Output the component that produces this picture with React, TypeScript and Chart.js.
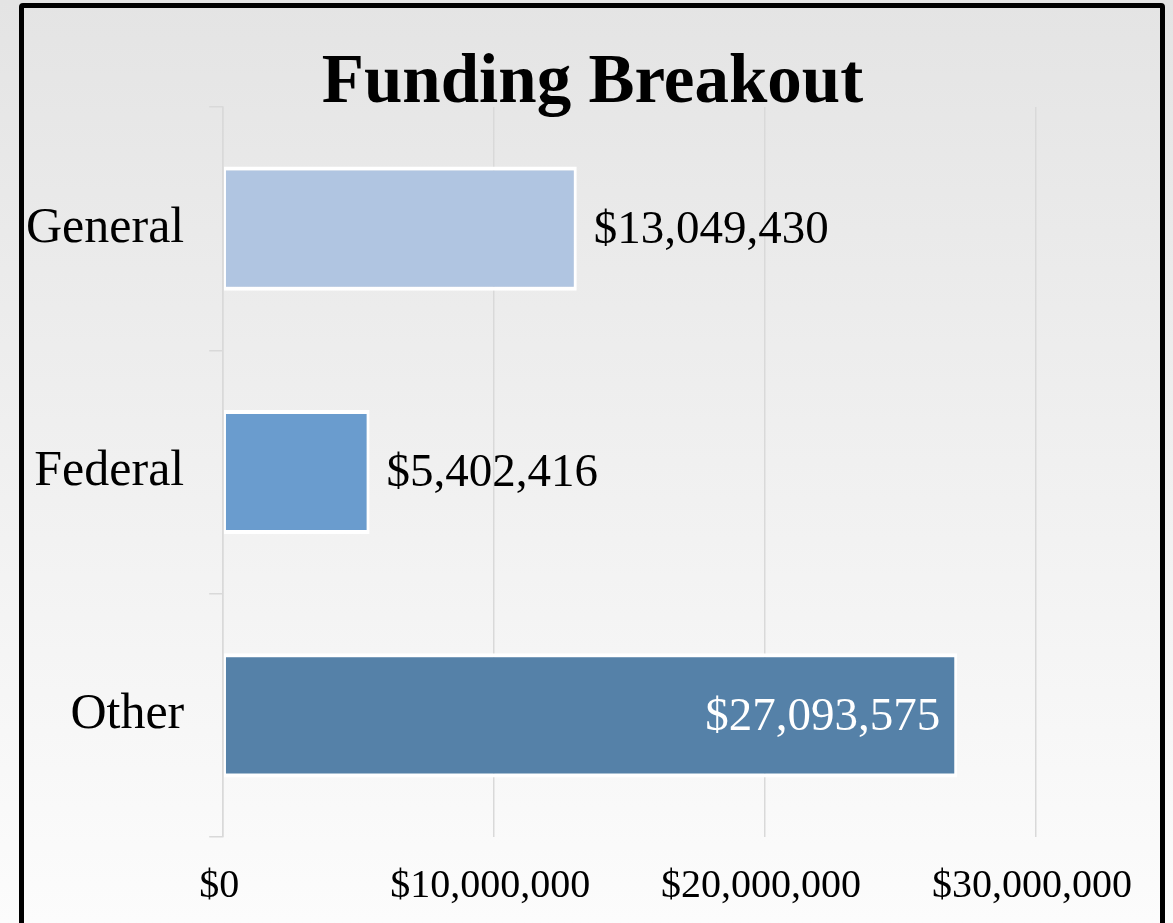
import { useEffect, useRef } from "react";
import { Chart, registerables } from "chart.js";

Chart.register(...registerables);

const categories = ["General", "Federal", "Other"];
const amounts = [13049430, 5402416, 27093575];
const barColors = ["#b0c5e1", "#6a9cce", "#5581a8"];
const xMin = 0;
const xMax = 30000000;
const xStep = 10000000;
const titleText = "Funding Breakout";

const FONT = "'Liberation Serif', 'Times New Roman', serif";
const money = (v: number) => "$" + Math.round(v).toLocaleString("en-US");

const titlePlugin = {
  id: "customTitle",
  afterDraw(chart: any) {
    const ctx = chart.ctx;
    ctx.save();
    ctx.font = `bold 69px ${FONT}`;
    ctx.fillStyle = "#000000";
    ctx.textAlign = "center";
    ctx.textBaseline = "alphabetic";
    ctx.fillText(titleText, 592.5, 102);
    ctx.restore();
  },
};

const valueLabelPlugin = {
  id: "valueLabels",
  afterDatasetsDraw(chart: any) {
    const ctx = chart.ctx;
    const meta = chart.getDatasetMeta(0);
    const area = chart.chartArea;
    ctx.save();
    ctx.font = `47px ${FONT}`;
    ctx.textBaseline = "middle";
    meta.data.forEach((bar: any, i: number) => {
      const text = money(amounts[i]);
      const w = ctx.measureText(text).width;
      const gap = 17;
      if (bar.x + gap + w > area.right) {
        ctx.textAlign = "right";
        ctx.fillStyle = "#ffffff";
        ctx.fillText(text, bar.x - gap, bar.y + 2);
      } else {
        ctx.textAlign = "left";
        ctx.fillStyle = "#000000";
        ctx.fillText(text, bar.x + gap, bar.y + 2);
      }
    });
    ctx.restore();
  },
};

export default function App() {
  const canvasRef = useRef<HTMLCanvasElement | null>(null);

  useEffect(() => {
    if (!canvasRef.current) return;
    const chart = new Chart(canvasRef.current, {
      type: "bar",
      data: {
        labels: categories,
        datasets: [
          {
            data: amounts,
            backgroundColor: barColors,
            borderColor: "#ffffff",
            borderWidth: { top: 4, bottom: 4, right: 3, left: 2 },
            borderSkipped: false,
            categoryPercentage: 1,
            barPercentage: 0.51,
          },
        ],
      },
      options: {
        indexAxis: "y",
        animation: false,
        responsive: false,
        maintainAspectRatio: false,
        events: [],
        layout: { padding: { left: 1, right: 137, top: 107, bottom: -12 } },
        plugins: {
          legend: { display: false },
          title: { display: false },
          tooltip: { enabled: false },
        },
        scales: {
          x: {
            type: "linear",
            min: xMin,
            max: xMax,
            border: { display: false },
            grid: {
              color: "#d9d9d9",
              lineWidth: 1.5,
              drawTicks: false,
            },
            ticks: {
              stepSize: xStep,
              padding: 25,
              labelOffset: -4,
              color: "#000000",
              font: { family: FONT, size: 40 },
              callback: (v: any) => money(Number(v)),
              maxRotation: 0,
            },
          },
          y: {
            type: "category",
            afterFit(scale: any) {
              scale.paddingTop = 0;
              scale.paddingBottom = 0;
            },
            border: { display: true, color: "#d9d9d9", width: 1.5 },
            grid: {
              offset: true,
              drawOnChartArea: false,
              drawTicks: true,
              tickLength: 14,
              color: "#d9d9d9",
              lineWidth: 1.5,
            },
            ticks: {
              padding: 25,
              color: "#000000",
              font: { family: FONT, size: 50 },
            },
          },
        },
      },
      plugins: [titlePlugin, valueLabelPlugin],
    } as any);
    return () => chart.destroy();
  }, []);

  return (
    <div
      style={{
        position: "fixed",
        left: 0,
        top: 0,
        width: 1173,
        height: 923,
        overflow: "hidden",
        background: "linear-gradient(#e4e4e4, #fcfcfc)",
      }}
    >
      <div
        style={{
          position: "absolute",
          left: 19,
          top: 3,
          width: 1136,
          height: 980,
          border: "5px solid #000000",
          borderRadius: 4,
          boxSizing: "content-box",
        }}
      />
      <canvas
        ref={canvasRef}
        width={1173}
        height={923}
        style={{ position: "absolute", left: 0, top: 0, width: 1173, height: 923 }}
      />
    </div>
  );
}
